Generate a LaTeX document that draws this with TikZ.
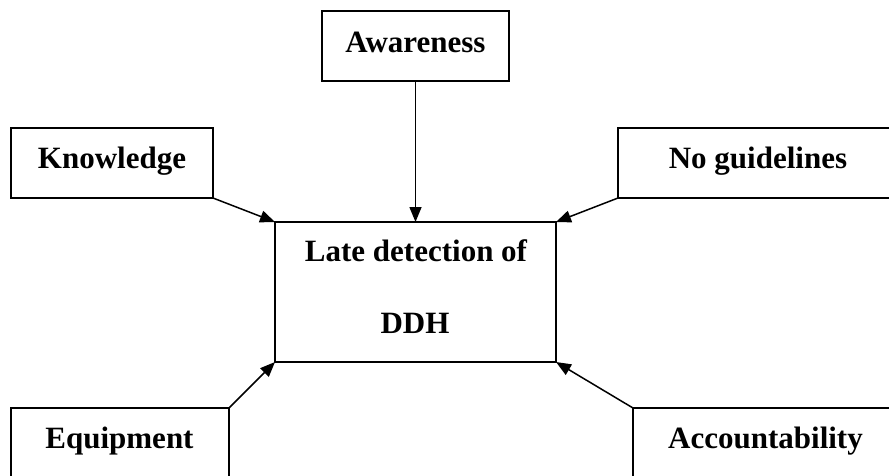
\documentclass[tikz,border=0pt]{standalone}
\usepackage{fontspec}
\setmainfont{Liberation Serif}
\usetikzlibrary{arrows.meta}
\begin{document}
\begin{tikzpicture}[x=1pt,y=-1pt,
  box/.style={draw,line width=1.5pt,inner sep=0pt,outer sep=0pt,rectangle},
  lbl/.style={font=\fontsize{31}{31}\selectfont\bfseries,anchor=base,inner sep=0pt},
  arr/.style={line width=1.5pt,-{Triangle[length=15pt,width=12pt]}}]
\useasboundingbox (0,0) rectangle (889,475);
\clip (0,0) rectangle (889,475);
\fill[white] (0,0) rectangle (889,475);
% boxes
\node[box,minimum width=187pt,minimum height=70pt] (aw) at (415.5,46) {};
\node[box,minimum width=202pt,minimum height=70pt] (kn) at (112,163) {};
\node[box,minimum width=332pt,minimum height=70pt] (ng) at (784,163) {};
\node[box,minimum width=218pt,minimum height=112pt] (eq) at (120,464) {};
\node[box,minimum width=317pt,minimum height=112pt] (ac) at (791.5,464) {};
\node[box,minimum width=281pt,minimum height=140pt] (ctr) at (415.5,292) {};
% labels
\node[lbl] (awt) at (415.5,52) {Awareness};
\node[lbl] (knt) at (112,168) {Knowledge};
\node[lbl] (ngt) at (758,168) {No guidelines};
\node[lbl] (eqt) at (119.5,448) {Equipment};
\node[lbl] (act) at (765.5,448) {Accountability};
\node[lbl] (ct1) at (416,261) {Late detection of};
\node[lbl] (ct2) at (415,333) {DDH};
% arrows
\draw[arr] (aw.south) -- (ctr.north);
\draw[arr] (kn.south east) -- (ctr.north west);
\draw[arr] (ng.south west) -- (ctr.north east);
\draw[arr] (eq.north east) -- (ctr.south west);
\draw[arr] (ac.north west) -- (ctr.south east);
\end{tikzpicture}
\end{document}
